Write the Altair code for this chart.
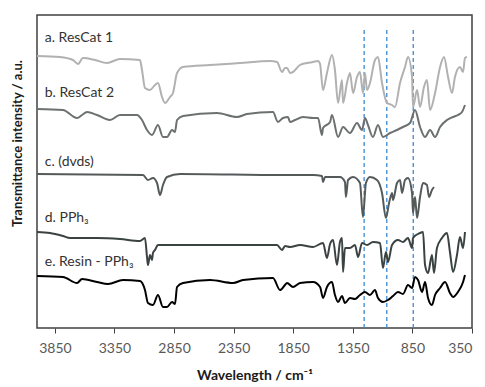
import altair as alt
import pandas as pd

# Wavenumber (cm-1) and offset transmittance (a.u.)
a_wn = [4000, 3807, 3698, 3656, 3614, 3513, 3413, 3304, 3136, 3119, 3094, 3052, 3010, 2985, 2951, 2926, 2884, 2859, 2825, 2775,
        2548, 2297, 2045, 1986, 1944, 1919, 1902, 1877, 1852, 1793, 1734, 1684, 1642, 1625, 1600, 1567, 1525, 1500, 1474, 1441,
        1432, 1399, 1374, 1348, 1315, 1290, 1265, 1248, 1231, 1206, 1164, 1139, 1105, 1063, 1021, 996, 954, 912, 887, 853,
        845, 811, 786, 753, 728, 702, 660, 618, 585, 551, 518, 493, 451, 425, 409, 392]
a_au = [272, 271, 268, 264, 270, 268, 265, 269, 268, 258, 240, 238, 243, 245, 231, 225, 231, 235, 255, 261,
        263, 265, 267, 266, 256, 260, 260, 255, 256, 263, 265, 266, 267, 264, 238, 255, 273, 258, 225, 248,
        225, 245, 255, 235, 251, 256, 235, 255, 238, 245, 268, 271, 245, 225, 223, 221, 245, 261, 271, 251,
        221, 238, 221, 241, 248, 218, 235, 261, 271, 251, 235, 251, 261, 256, 270, 271]

b_wn = [4000, 3782, 3664, 3622, 3580, 3497, 3387, 3304, 3161, 3119, 3077, 3035, 2985, 2943, 2909, 2867, 2842, 2825, 2775, 2490,
        2322, 2238, 2020, 1978, 1936, 1894, 1877, 1835, 1768, 1684, 1642, 1609, 1600, 1541, 1525, 1474, 1432, 1374, 1315, 1273,
        1248, 1223, 1181, 1139, 1097, 1038, 979, 929, 870, 828, 786, 744, 702, 660, 618, 560, 509, 468, 434, 409]
b_au = [219, 218, 210, 213, 216, 213, 208, 213, 213, 208, 198, 193, 203, 191, 191, 198, 196, 208, 212, 215,
        211, 214, 216, 206, 210, 211, 206, 208, 211, 210, 210, 193, 200, 206, 213, 191, 201, 195, 205, 198,
        210, 203, 191, 203, 191, 195, 198, 201, 205, 218, 201, 191, 198, 191, 201, 208, 211, 213, 216, 223]

c_wn = [4000, 3111, 3069, 3027, 2993, 2968, 2943, 2909, 2800, 1936, 1877, 1684, 1609, 1600, 1583, 1458, 1416, 1408, 1390, 1348,
        1290, 1265, 1240, 1206, 1147, 1105, 1072, 1046, 1021, 1013, 979, 954, 937, 912, 887, 853, 845, 828, 811, 786,
        761, 728, 711, 686, 669]
c_au = [154, 153, 148, 150, 145, 133, 143, 151, 154, 153, 153, 153, 152, 146, 151, 151, 146, 131, 148, 151,
        145, 111, 145, 151, 148, 135, 110, 125, 135, 128, 145, 148, 135, 148, 150, 135, 115, 131, 110, 131,
        145, 143, 131, 138, 141]

d_wn = [4000, 3891, 3782, 3723, 3497, 3304, 3136, 3094, 3077, 3069, 3052, 3035, 3027, 3010, 2985, 2943, 2381, 1986, 1944, 1919,
        1877, 1793, 1684, 1600, 1567, 1541, 1516, 1483, 1458, 1441, 1432, 1416, 1374, 1332, 1306, 1273, 1231, 1181, 1122, 1097,
        1072, 1055, 1021, 971, 929, 887, 853, 845, 786, 761, 744, 719, 686, 669, 644, 602, 560, 535, 509, 476,
        451, 425, 409]
d_au = [96, 95, 92, 90, 90, 89, 87, 90, 71, 63, 73, 68, 75, 78, 83, 83, 83, 83, 78, 82,
        81, 83, 81, 85, 70, 84, 88, 63, 86, 90, 56, 80, 80, 83, 71, 85, 83, 86, 85, 60,
        76, 66, 83, 88, 86, 90, 80, 90, 95, 96, 63, 55, 73, 55, 80, 90, 95, 76, 56, 73,
        91, 80, 96]

e_wn = [4000, 3782, 3664, 3622, 3497, 3404, 3278, 3136, 3094, 3069, 3027, 2985, 2943, 2909, 2867, 2842, 2825, 2775, 2548, 2355,
        2271, 2020, 1961, 1919, 1902, 1852, 1793, 1684, 1625, 1600, 1567, 1525, 1500, 1474, 1441, 1416, 1374, 1332, 1290, 1248,
        1206, 1164, 1139, 1097, 1055, 1013, 971, 929, 887, 853, 828, 803, 769, 744, 719, 686, 660, 618, 576, 535,
        509, 468, 425, 409]
e_au = [52, 51, 45, 49, 46, 44, 48, 47, 38, 25, 23, 33, 21, 21, 26, 24, 41, 45, 48, 45,
        48, 50, 38, 43, 45, 41, 45, 46, 41, 30, 41, 46, 33, 26, 32, 25, 30, 29, 33, 36,
        33, 38, 30, 26, 28, 32, 36, 34, 43, 40, 51, 48, 36, 46, 30, 23, 33, 40, 46, 35,
        31, 36, 46, 53]

series_names = ["a", "b", "c", "d", "e"]
series_colors = ["#b1b1b1", "#6d7070", "#545a5a", "#3a4242", "#000000"]

label_texts = ["a. ResCat 1", "b. ResCat 2", "c. (dvds)", "d. PPh\u2083", "e. Resin - PPh\u2083"]
label_wn = [3935, 3935, 3935, 3935, 3935]
label_au = [290, 235, 166, 110, 66]

marker_wn = [1255, 1065, 843]
marker_top = [301, 301, 301]

x_ticks = [3850, 3350, 2850, 2350, 1850, 1350, 850, 350]

rows = []
for name, wns, aus in zip(series_names, [a_wn, b_wn, c_wn, d_wn, e_wn], [a_au, b_au, c_au, d_au, e_au]):
    for w, v in zip(wns, aus):
        rows.append({"trace": name, "wn": w, "au": v})
df = pd.DataFrame(rows)
labels = pd.DataFrame({"text": label_texts, "wn": label_wn, "au": label_au})
markers = pd.DataFrame({"wn": marker_wn, "top": marker_top, "bottom": [0, 0, 0]})

xscale = alt.Scale(domain=[4000, 350], nice=False, zero=False)
yscale = alt.Scale(domain=[0, 313], nice=False, zero=False)

xaxis = alt.Axis(values=x_ticks, format="d", grid=False, domain=False, tickSize=5, tickColor="#404040",
                 labelFont="Lato", labelFontSize=14, labelColor="#595959", labelPadding=8,
                 title="Wavelength / cm\u207b\u00b9", titleFont="Lato", titleFontSize=14,
                 titleFontWeight="bold", titleColor="#1a1a1a", titlePadding=13)
yaxis = alt.Axis(labels=False, ticks=False, grid=False, domain=False,
                 title="Transmittance intensity / a.u.", titleFont="Lato", titleFontSize=13,
                 titleFontWeight="bold", titleColor="#1a1a1a", titleX=-13, titleY=128)

lines = alt.Chart(df).mark_line(strokeWidth=2, interpolate="monotone").encode(
    x=alt.X("wn:Q", scale=xscale, axis=xaxis),
    y=alt.Y("au:Q", scale=yscale, axis=yaxis),
    color=alt.Color("trace:N", scale=alt.Scale(domain=series_names, range=series_colors), legend=None),
)

rules = alt.Chart(markers).mark_rule(color="#3b8ad4", strokeWidth=1.3, strokeDash=[4, 3]).encode(
    x=alt.X("wn:Q", scale=xscale),
    y=alt.Y("bottom:Q", scale=yscale),
    y2="top:Q",
)

texts = alt.Chart(labels).mark_text(align="left", baseline="middle", font="Lato", fontSize=14, color="#333333").encode(
    x=alt.X("wn:Q", scale=xscale),
    y=alt.Y("au:Q", scale=yscale),
    text="text:N",
)

chart = alt.layer(rules, lines, texts).properties(
    width=435, height=313,
    autosize=alt.AutoSizeParams(type="none"),
    padding={"left": 29, "top": 7, "right": 5, "bottom": 58},
).configure_view(stroke="#404040", strokeWidth=1.5)

chart.save("out.html", embed_options={"renderer": "svg", "actions": False})
